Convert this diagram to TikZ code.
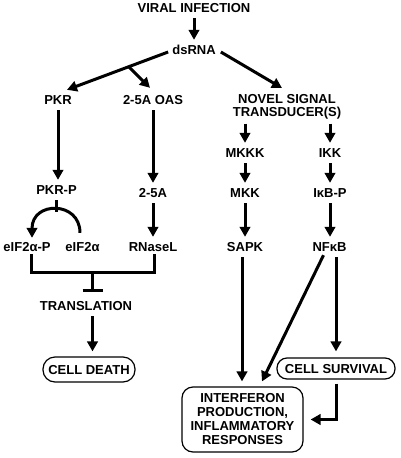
\documentclass[tikz,border=0pt]{standalone}
\usepackage{fontspec}
\setmainfont{Liberation Sans}
\usetikzlibrary{arrows.meta,calc}
\begin{document}
\begin{tikzpicture}[x=1pt,y=-1pt,
  lbl/.style={font=\fontsize{13}{14}\selectfont\bfseries, inner xsep=2pt, inner ysep=0pt, text height=9pt, text depth=0pt, minimum height=20pt},
  multi/.style={font=\fontsize{13}{13}\selectfont\bfseries, align=center, inner sep=3pt},
  arr/.style={line width=3pt, -{Triangle[length=10pt,width=10.5pt]}},
  ln/.style={line width=3pt},
  pill/.style={lbl, draw, line width=1.2pt},
]
\useasboundingbox (0,0) rectangle (400,458);
% nodes
\node[lbl] (viral) at (194,8) {VIRAL INFECTION};
\node[lbl] (dsrna) at (194,50) {dsRNA};
\node[lbl] (pkr) at (58,100) {PKR};
\node[lbl] (oas) at (153,100) {2-5A OAS};
\node[multi, inner ysep=4pt] (novel) at (287,107) {NOVEL SIGNAL\\TRANSDUCER(S)};
\node[lbl] (mkkk) at (245,153) {MKKK};
\node[lbl] (ikk) at (330,153) {IKK};
\node[lbl] (mkk) at (245,193) {MKK};
\node[lbl] (ikbp) at (330,193) {IκB-P};
\node[lbl] (sapk) at (245,247) {SAPK};
\node[lbl] (nfkb) at (329.5,247) {NFκB};
\node[lbl] (pkrp) at (56.5,190) {PKR-P};
\node[lbl] (twofive) at (153,193) {2-5A};
\node[lbl] (eifp) at (27,247) {eIF2α-P};
\node[lbl] (eif) at (82.5,247) {eIF2α};
\node[lbl] (rnasel) at (153,247) {RNaseL};
\node[lbl] (transl) at (86,306) {TRANSLATION};
\node[pill, minimum width=92pt, minimum height=25pt, rounded corners=12pt] (death) at (89,369.5) {CELL DEATH};
\node[pill, minimum width=118pt, minimum height=21pt, rounded corners=10pt] (survival) at (336,368.5) {CELL SURVIVAL};
\node[multi, draw, line width=1.2pt, rounded corners=11pt, minimum width=121pt, minimum height=65pt, font=\fontsize{13}{14}\selectfont\bfseries] (interferon) at (242.5,419.5) {INTERFERON\\PRODUCTION,\\INFLAMMATORY\\RESPONSES};
% top
\draw[arr] (viral.south) -- (dsrna.north);
\coordinate (ds1) at ($(dsrna.west)+(-2,2)$);
\coordinate (pkrtip) at ($(pkr.north)+(9,0)$);
\draw[arr] (ds1) -- (pkrtip);
\draw[arr] ($(ds1)!0.39!(pkrtip)$) -- ($(oas.north)+(-3,-2)$);
\draw[arr] ($(dsrna.east)+(3,2)$) -- ($(novel.center)+(-5,-19)$);
% left branch
\draw[arr] (pkr.south) -- (pkr.south |- pkrp.north);
\draw[arr] (oas.south) -- (twofive.north);
\draw[arr] (twofive.south) -- (rnasel.north);
\draw[ln] ($(pkrp.south)+(-0.5,0)$) -- ($(pkrp.south)+(-0.5,12)$);
\draw[arr] ($(eif.north)+(-2.5,-4)$) .. controls ($(eif.north)+(-2.5,-36)$) and ($(eifp.north)+(5,-36)$) .. ($(eifp.north)+(5,1)$);
\coordinate (bl) at ($(eifp.south)+(4,15)$);
\coordinate (br) at ($(rnasel.south)+(1,15)$);
\coordinate (mid) at ($(bl)!0.5!(br)$);
\draw[ln] ($(eifp.south)+(4,-3)$) -- (bl) -- (br) -- ($(rnasel.south)+(1,-3)$);
\coordinate (stem) at ($(mid)+(0,18)$);
\draw[ln] (mid) -- (stem);
\draw[ln] ($(stem)+(-10,0)$) -- ($(stem)+(10,0)$);
\draw[arr, shorten >=5pt] (transl.south -| mid) -- (death.north -| mid);
% right branch
\draw[arr] (mkkk.north |- novel.south) -- (mkkk.north);
\draw[arr] (ikk.north |- novel.south) -- (ikk.north);
\draw[arr] (mkkk.south) -- (mkk.north);
\draw[arr] (ikk.south) -- (ikbp.north);
\draw[arr] (mkk.south) -- (sapk.north);
\draw[arr] (ikbp.south) -- (ikbp.south |- nfkb.north);
\draw[arr, shorten >=5pt] ($(sapk.south)+(-3,0)$) -- ($(sapk.south |- interferon.north)+(-3,0)$);
\draw[arr] ($(nfkb.south)+(-6,-2)$) -- ($(interferon.north)+(19.5,-5)$);
\draw[arr, shorten >=6pt] (nfkb.south -| survival.north) -- (survival.north);
\draw[arr, shorten <=4pt, shorten >=7pt] (survival.south) |- (interferon.east);
\end{tikzpicture}
\end{document}
